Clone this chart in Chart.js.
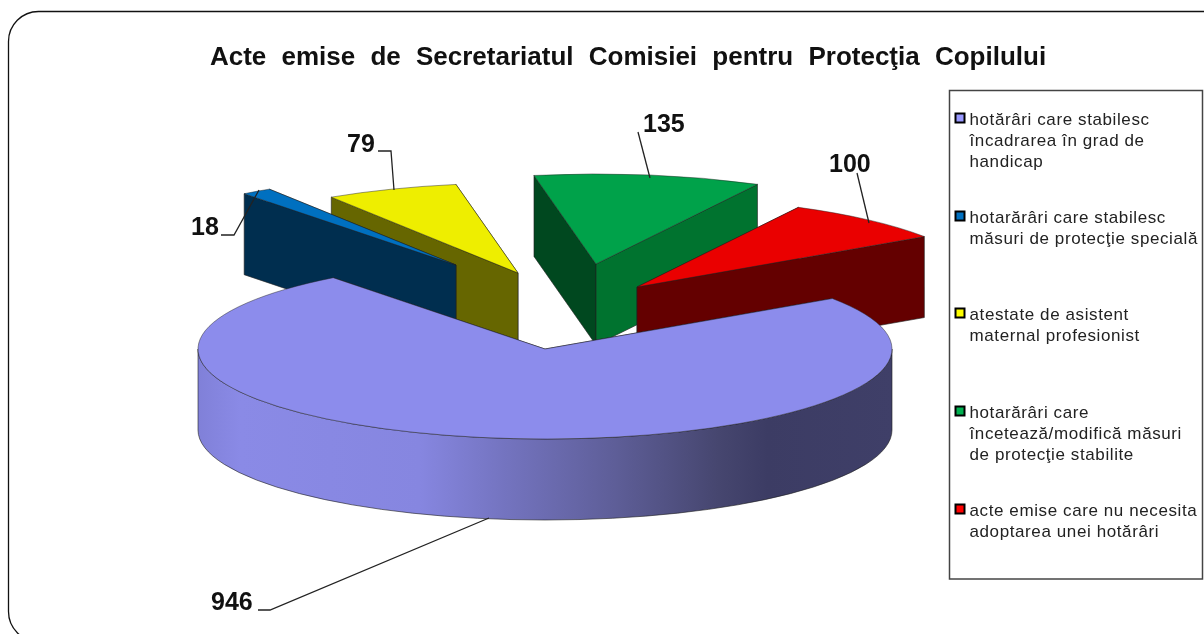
<!DOCTYPE html>
<html>
<head>
<meta charset="utf-8">
<style>
  html, body { margin: 0; background: #fff; }
  canvas { display: block; }
</style>
</head>
<body>
<canvas id="chart" width="1204" height="634"></canvas>
<script src="https://cdn.jsdelivr.net/npm/chart.js@4"></script>
<script>
const chartTitle = 'Acte emise de Secretariatul Comisiei pentru Protecţia Copilului';
const categories = [
  'hotărâri care stabilesc încadrarea în grad de handicap',
  'hotarărâri care stabilesc măsuri de protecţie specială',
  'atestate de asistent maternal profesionist',
  'hotarărâri care încetează/modifică măsuri de protecţie stabilite',
  'acte emise care nu necesita adoptarea unei hotărâri'
];
const values = [946, 18, 79, 135, 100];
const legendLines = [
  ['hotărâri care stabilesc', 'încadrarea în grad de', 'handicap'],
  ['hotarărâri care stabilesc', 'măsuri de protecţie specială'],
  ['atestate de asistent', 'maternal profesionist'],
  ['hotarărâri care', 'încetează/modifică măsuri', 'de protecţie stabilite'],
  ['acte emise care nu necesita', 'adoptarea unei hotărâri']
];

// colours
const topColors = ['#8c8cec', '#0070c0', '#eeee00', '#00a24a', '#ea0000'];
const swatchColors = ['#9999ff', '#0070c0', '#ffff00', '#00b050', '#ff0000'];
const faceColors = [
  ['#3c3c66', '#3c3c66'],
  ['#002e4f', '#002e4f'],
  ['#666600', '#666600'],
  ['#00481f', '#00732f'],
  ['#640000', '#640000']
];

// layout of the fake 3d pie
const pieX = 545, pieY = 349, radiusX = 347, radiusY = 90, depth = 81;
const explode = [[0, 0], [-89, -84], [-27, -76], [51, -85], [92, -62]];
const drawOrder = [3, 4, 2, 1, 0];
const labelSpots = [[211, 610], [191, 235], [347, 152], [643, 132], [829, 172]];
const leaders = [
  [[258, 610], [270, 610], [489, 518]],
  [[221, 235], [234, 235], [259, 190]],
  [[378, 151], [391, 151], [394, 190]],
  [[638, 132], [650, 178]],
  [[857, 173], [869, 223]]
];
const legendBox = [949.5, 90.5, 253, 488.5];
const legendBaselines = [125, 223, 320, 418, 516];
const legendLineGap = 21;

function edgePoint(i, angle) {
  return [
    pieX + explode[i][0] + radiusX * Math.cos(angle),
    pieY + explode[i][1] + radiusY * Math.sin(angle)
  ];
}

function drawFace(ctx, i, angle, color) {
  const cx = pieX + explode[i][0], cy = pieY + explode[i][1];
  const p = edgePoint(i, angle);
  ctx.beginPath();
  ctx.moveTo(cx, cy);
  ctx.lineTo(p[0], p[1]);
  ctx.lineTo(p[0], p[1] + depth);
  ctx.lineTo(cx, cy + depth);
  ctx.closePath();
  ctx.fillStyle = color;
  ctx.fill();
  ctx.stroke();
}

function sideGradient(ctx) {
  const g = ctx.createLinearGradient(pieX - radiusX, 0, pieX + radiusX, 0);
  g.addColorStop(0, '#8080d8');
  g.addColorStop(0.06, '#8a8ae6');
  g.addColorStop(0.32, '#8686e0');
  g.addColorStop(0.44, '#7474c0');
  g.addColorStop(0.6, '#5e5e98');
  g.addColorStop(0.75, '#46466f');
  g.addColorStop(0.82, '#3c3c64');
  g.addColorStop(1, '#3f3f68');
  return g;
}

function drawSlice(ctx, arc, i) {
  const cx = pieX + explode[i][0], cy = pieY + explode[i][1];
  const start = arc.startAngle, end = arc.endAngle;
  ctx.strokeStyle = 'rgba(30,30,30,0.6)';
  ctx.lineWidth = 1;

  // the cut face nearer the viewer goes on last
  const startFirst = edgePoint(i, start)[1] < edgePoint(i, end)[1];
  if (startFirst) {
    drawFace(ctx, i, start, faceColors[i][0]);
    drawFace(ctx, i, end, faceColors[i][1]);
  } else {
    drawFace(ctx, i, end, faceColors[i][1]);
    drawFace(ctx, i, start, faceColors[i][0]);
  }

  // outer wall, only the front half shows
  const a0 = Math.max(start, 0), a1 = Math.min(end, Math.PI);
  if (a1 > a0) {
    ctx.beginPath();
    ctx.ellipse(cx, cy, radiusX, radiusY, 0, a0, a1);
    ctx.ellipse(cx, cy + depth, radiusX, radiusY, 0, a1, a0, true);
    ctx.closePath();
    ctx.fillStyle = sideGradient(ctx);
    ctx.fill();
    ctx.stroke();
  }

  // top, the library's own arc squashed into place
  ctx.save();
  ctx.translate(cx, cy);
  ctx.scale(radiusX / arc.outerRadius, radiusY / arc.outerRadius);
  ctx.translate(-arc.x, -arc.y);
  arc.draw(ctx);
  ctx.restore();

  ctx.beginPath();
  ctx.moveTo(cx, cy);
  ctx.ellipse(cx, cy, radiusX, radiusY, 0, start, end);
  ctx.closePath();
  ctx.strokeStyle = 'rgba(30,30,30,0.45)';
  ctx.stroke();
}

const pie3d = {
  id: 'pie3d',
  beforeDraw(chart) {
    const ctx = chart.ctx;
    ctx.save();
    ctx.fillStyle = '#fff';
    ctx.fillRect(0, 0, chart.width, chart.height);
    ctx.beginPath();
    ctx.roundRect(8.5, 11.5, 1300, 630, 30);
    ctx.strokeStyle = '#111';
    ctx.lineWidth = 1.3;
    ctx.stroke();
    ctx.restore();
    ctx.wordSpacing = '8px';
  },
  beforeDatasetsDraw(chart) {
    const ctx = chart.ctx;
    ctx.wordSpacing = '0px';
    const arcs = chart.getDatasetMeta(0).data;
    ctx.save();
    drawOrder.forEach(i => drawSlice(ctx, arcs[i], i));
    ctx.restore();
    return false;
  },
  afterDraw(chart) {
    const ctx = chart.ctx;
    ctx.save();

    // leader lines and value labels
    ctx.strokeStyle = '#222';
    ctx.lineWidth = 1.3;
    leaders.forEach(line => {
      ctx.beginPath();
      line.forEach((p, k) => k ? ctx.lineTo(p[0], p[1]) : ctx.moveTo(p[0], p[1]));
      ctx.stroke();
    });
    ctx.fillStyle = '#111';
    ctx.font = 'bold 25px "Liberation Sans"';
    ctx.textAlign = 'left';
    ctx.textBaseline = 'alphabetic';
    values.forEach((v, i) => ctx.fillText(String(v), labelSpots[i][0], labelSpots[i][1]));

    // legend
    ctx.strokeStyle = '#444';
    ctx.lineWidth = 1.5;
    ctx.strokeRect(legendBox[0], legendBox[1], legendBox[2], legendBox[3]);
    ctx.font = '17px "Liberation Sans"';
    ctx.letterSpacing = '0.6px';
    legendLines.forEach((lines, i) => {
      const base = legendBaselines[i];
      ctx.fillStyle = '#000';
      ctx.fillRect(954.5, base - 12.5, 11, 11);
      ctx.fillStyle = swatchColors[i];
      ctx.fillRect(956.5, base - 10.5, 7, 7);
      ctx.fillStyle = '#222';
      lines.forEach((t, k) => ctx.fillText(t, 969.5, base + k * legendLineGap));
    });
    ctx.restore();
  }
};

new Chart(document.getElementById('chart'), {
  type: 'pie',
  data: {
    labels: categories,
    datasets: [{
      data: values,
      backgroundColor: topColors,
      borderWidth: 0
    }]
  },
  options: {
    responsive: false,
    animation: false,
    rotation: 55.9,
    layout: { padding: { left: 52, top: 42, bottom: 100, right: 0 } },
    plugins: {
      legend: { display: false },
      tooltip: { enabled: false },
      title: {
        display: true,
        text: chartTitle,
        color: '#111',
        font: { family: '"Liberation Sans"', size: 26, weight: 'bold' },
        padding: { top: 0, bottom: 10 }
      }
    }
  },
  plugins: [pie3d]
});
</script>
</body>
</html>
